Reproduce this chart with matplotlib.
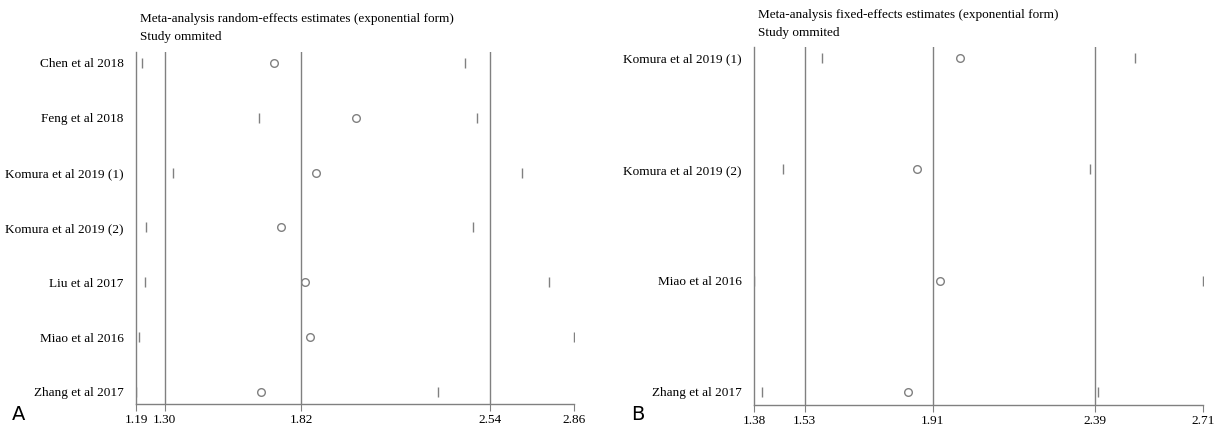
import matplotlib.pyplot as plt

# Panel A: random-effects, study omitted
studies_a = ["Chen et al 2018", "Feng et al 2018", "Komura et al 2019 (1)",
             "Komura et al 2019 (2)", "Liu et al 2017", "Miao et al 2016",
             "Zhang et al 2017"]
est_a = [1.718, 2.03, 1.878, 1.741, 1.836, 1.853, 1.667]
low_a = [1.213, 1.659, 1.33, 1.228, 1.225, 1.203, 1.19]
high_a = [2.445, 2.49, 2.66, 2.476, 2.763, 2.86, 2.34]
ticks_a = [1.19, 1.30, 1.82, 2.54, 2.86]
refs_a = [1.30, 1.82, 2.54]

# Panel B: fixed-effects, study omitted
studies_b = ["Komura et al 2019 (1)", "Komura et al 2019 (2)",
             "Miao et al 2016", "Zhang et al 2017"]
est_b = [1.989, 1.863, 1.931, 1.835]
low_b = [1.58, 1.466, 1.38, 1.405]
high_b = [2.508, 2.375, 2.71, 2.40]
ticks_b = [1.38, 1.53, 1.91, 2.39, 2.71]
refs_b = [1.53, 1.91, 2.39]

serif = ["Liberation Serif", "DejaVu Serif"]
gray = "#808080"
W, H = 1223, 425

fig = plt.figure(figsize=(W / 100, H / 100), dpi=100)


def panel(box, studies, est, low, high, ticks, refs, titles, title_y,
          top_pad, bot_pad, letter, lx):
    l, t, r, b = box
    ax = fig.add_axes([l / W, 1 - b / H, (r - l) / W, (b - t) / H])
    n = len(studies)
    ys = list(range(n))
    for x in refs:
        ax.axvline(x, color=gray, lw=1.0)
    ax.plot(est, ys, "o", mfc="none", mec=gray, ms=5.5, mew=1.0)
    ax.plot(low, ys, "|", color=gray, ms=7, mew=1.0)
    ax.plot(high, ys, "|", color=gray, ms=7, mew=1.0)
    ax.set_xlim(ticks[0], ticks[-1])
    ax.set_ylim(n - 1 + bot_pad, -top_pad)
    ax.set_xticks(ticks)
    ax.set_xticklabels([f"{v:.2f}" for v in ticks], family=serif, fontsize=9.5)
    ax.set_yticks(ys)
    ax.set_yticklabels(studies, family=serif, fontsize=9.5)
    ax.tick_params(axis="y", length=0, pad=9)
    ax.tick_params(axis="x", length=5, color=gray, pad=2)
    for s in ["top", "right"]:
        ax.spines[s].set_visible(False)
    for s in ["left", "bottom"]:
        ax.spines[s].set_color(gray)
        ax.spines[s].set_linewidth(1.0)
    for txt, yy in zip(titles, title_y):
        fig.text((l + 4) / W, 1 - yy / H, txt, family=serif, fontsize=9.5,
                 va="center", ha="left")
    fig.text(lx / W, 1 - 415 / H, letter, fontsize=14, va="center", ha="left")
    return ax


panel((136, 52, 574, 404), studies_a, est_a, low_a, high_a, ticks_a, refs_a,
      ["Meta-analysis random-effects estimates (exponential form)", "Study ommited"],
      [19, 37], 0.2, 0.22, "A", 12)
panel((754, 47, 1203, 405), studies_b, est_b, low_b, high_b, ticks_b, refs_b,
      ["Meta-analysis fixed-effects estimates (exponential form)", "Study ommited"],
      [15, 33], 0.1, 0.117, "B", 631)

fig.savefig("out.png", dpi=100)
